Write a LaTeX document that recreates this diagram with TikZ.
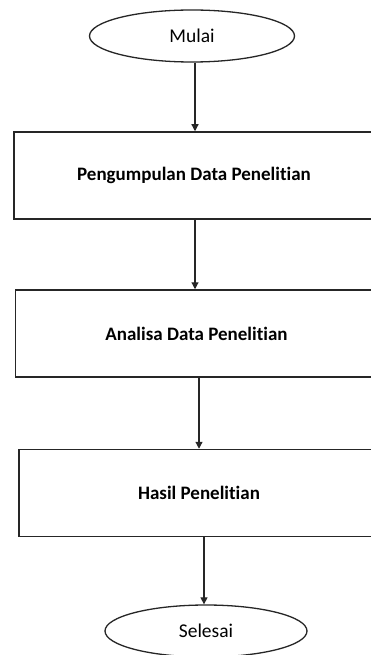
\documentclass[tikz,border=0pt]{standalone}
\usepackage{fontspec}
\setmainfont{Carlito}[Ligatures=NoCommon]
\usetikzlibrary{shapes.geometric,arrows.meta}
\begin{document}
\begin{tikzpicture}[x=1pt,y=-1pt,
  term/.style={ellipse,draw=black!85,line width=1.3pt,inner sep=0pt,font=\fontsize{19.5}{22}\selectfont},
  proc/.style={rectangle,draw=black!85,line width=1.5pt,inner sep=0pt,font=\bfseries\fontsize{19}{22}\selectfont},
  arr/.style={draw=black!85,line width=1.2pt,-{Triangle[width=7pt,length=7pt]}}]
\useasboundingbox (0,0) rectangle (371,655);
\clip (0,0) rectangle (371,655);
\node[term,minimum width=205pt,minimum height=52pt] (m) at (192,36) {Mulai};
\node[proc,minimum width=360pt,minimum height=87pt] (b1) at (194,175.5) {Pengumpulan Data Penelitian};
\node[proc,minimum width=362pt,minimum height=87pt] (b2) at (196.5,333.5) {Analisa Data Penelitian};
\node[proc,minimum width=360pt,minimum height=87pt] (b3) at (199,493) {Hasil Penelitian};
\node[term,minimum width=202pt,minimum height=52pt] (s) at (206,631) {Selesai};
\coordinate (c1) at (195,0);
\coordinate (c2) at (195,0);
\coordinate (c3) at (199,0);
\coordinate (c4) at (204,0);
\draw[arr] (m.south -| c1) -- (b1.north -| c1);
\draw[arr] (b1.south -| c2) -- (b2.north -| c2);
\draw[arr] (b2.south -| c3) -- (b3.north -| c3);
\draw[arr] (b3.south -| c4) -- (s.north -| c4);
\end{tikzpicture}
\end{document}
